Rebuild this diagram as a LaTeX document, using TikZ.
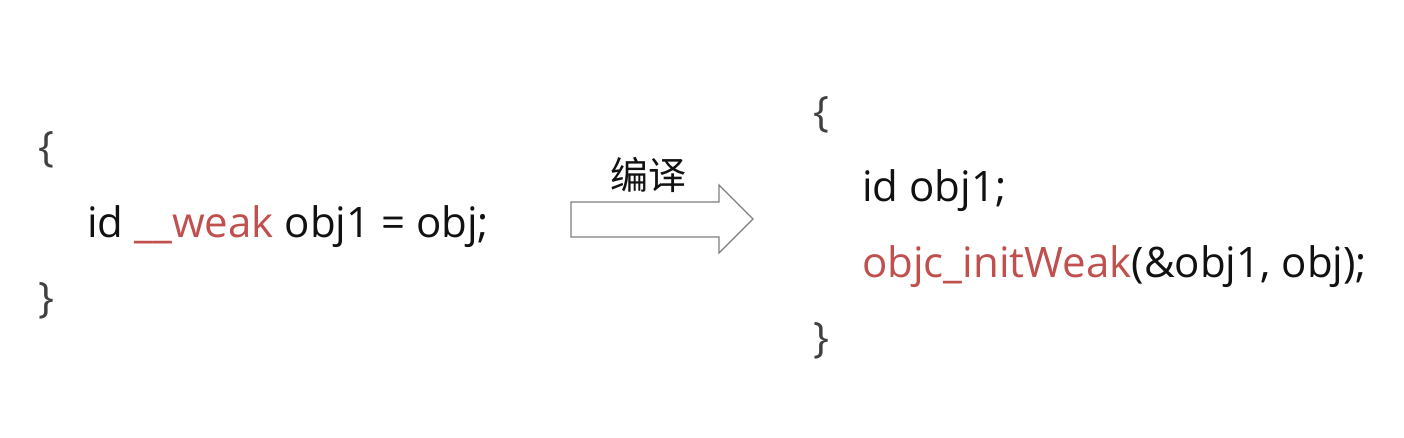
\documentclass[tikz,border=0pt]{standalone}
\usepackage{fontspec}
\setmainfont{Open Sans}
\newfontfamily\cjk{Noto Sans CJK SC}
\definecolor{codeblack}{HTML}{111111}
\definecolor{codered}{HTML}{C0504D}
\definecolor{bracegray}{HTML}{404040}
\definecolor{arrowgray}{HTML}{7F7F7F}
\begin{document}
\begin{tikzpicture}[x=1pt,y=-1pt,
  code/.style={anchor=base west,inner sep=0pt,text=codeblack,font=\fontsize{42}{50}\selectfont},
  brace/.style={code,text=bracegray}]
\useasboundingbox[fill=white] (0,0) rectangle (1404,438);
% left block
\node[brace] (lo) at (38,162) {\{};
\node[code] (l1) at (87,237) {id \textcolor{codered}{\_\_weak} obj1 = obj;};
\node[brace] (lc) at (38,312) {\}};
% arrow
\draw[arrowgray,line width=1.2pt,fill=white,line join=miter]
  (571,202) -- (719,202) -- (719,185) -- (753,219) -- (719,253) -- (719,237) -- (571,237) -- cycle;
\node[inner sep=0pt,font=\cjk\fontsize{38}{44}\selectfont,text=codeblack] (lab) at (648,175) {编译};
% right block
\node[brace] (ro) at (813,127) {\{};
\node[code] (r1) at (862,202) {id obj1;};
\node[code] (r2) at (862,277) {\textcolor{codered}{objc\_initWeak}(\&obj1, obj);};
\node[brace] (rc) at (813,352) {\}};
\end{tikzpicture}
\end{document}
